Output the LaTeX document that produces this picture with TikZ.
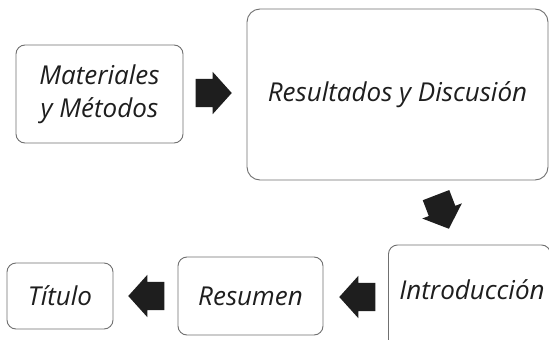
\documentclass[tikz,border=0pt]{standalone}
\usepackage{fontspec}
\setmainfont{Open Sans}
\usetikzlibrary{shapes.arrows}
\definecolor{boxline}{HTML}{707070}
\definecolor{ink}{HTML}{1E1E1E}
\begin{document}
\begin{tikzpicture}[x=1pt,y=-1pt,
  box/.style={draw=boxline, line width=0.9pt, rounded corners=9pt, inner sep=0pt, fill=white},
  lbl/.style={font=\itshape\fontsize{26}{33}\selectfont, text=ink, align=center},
  blockarrow/.style={single arrow, fill=ink, draw=none, inner xsep=0pt, inner ysep=14pt,
    minimum height=36pt, single arrow head extend=7pt,
    single arrow tip angle=96, anchor=tip}]
\useasboundingbox (0,0) rectangle (549,340);
\clip (0,0) rectangle (549,340);
\fill[white] (0,0) rectangle (549,340);
% boxes
\node[box, lbl, minimum width=167pt, minimum height=98pt] (mm) at (99.5,94) {Materiales\\y Métodos};
\node[box, lbl, rounded corners=13pt, minimum width=301pt, minimum height=171pt] (rd) at (397.5,94.5) {Resultados y Discusión};
\node[box, minimum width=162pt, minimum height=125pt] (intro) at (469.5,307.5) {};
\node[lbl] (introtxt) at (472,290) {Introducción};
\node[box, lbl, minimum width=145pt, minimum height=78pt] (res) at (250.5,296) {Resumen};
\node[box, lbl, minimum width=106pt, minimum height=66pt] (tit) at (60,296) {Título};
% block arrows
\node[blockarrow] (a1) at (232,93) {};
\node[blockarrow, rotate=-69] (a2) at (449,229) {};
\node[blockarrow, rotate=180] (a3) at (339,297) {};
\node[blockarrow, rotate=180] (a4) at (128,296) {};
\end{tikzpicture}
\end{document}
